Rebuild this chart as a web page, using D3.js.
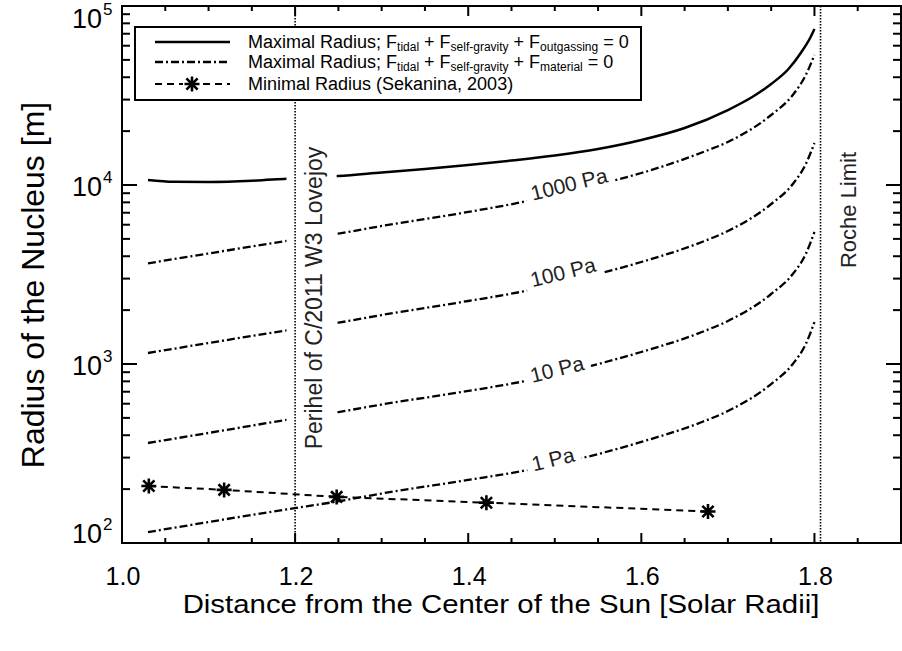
<!DOCTYPE html>
<html><head><meta charset="utf-8">
<script src="https://cdn.jsdelivr.net/npm/d3@7"></script>
<style>body{margin:0;background:#fff} svg{font-family:"Liberation Sans",Arial,Helvetica,sans-serif}</style>
</head><body><svg id="c" width="902" height="651"></svg>
<script>
// ---- data ----
const solidX = [1.03,1.06,1.10,1.15,1.19,1.25,1.30,1.35,1.40,1.45,1.50,1.55,1.60,1.65,1.70,1.73,1.75,1.77,1.785,1.795,1.80];
const solidR = [10665,10420,10394,10556,10845,11226,11745,12285,12934,13707,14616,15888,17840,20820,26240,31420,36660,44460,55340,66250,74360];
const presX  = [1.03,1.10,1.19,1.25,1.30,1.40,1.46,1.55,1.60,1.67,1.70,1.75,1.775,1.79,1.80];
const p1000R = [3652,4143,4867,5352,5902,7067,7983,10064,11667,15190,17390,24610,31820,41160,53250];
const p100R  = [1152,1310,1539,1701,1878,2249,2524,3184,3714,4804,5534,7831,10130,13100,17160];
const p10R   = [362,412,487,539,594,707,793,1000,1167,1509,1739,2461,3184,4117,5463];
const p1R    = [115,131,154,171,189,225,251,314,367,474,546,773,1000,1293,1716];
const presLabels = ["1000 Pa","100 Pa","10 Pa","1 Pa"];
const sekX = [1.031,1.118,1.248,1.421,1.677];
const sekR = [208,198,181,168,150];
const xTickVals = [1.0,1.2,1.4,1.6,1.8];
const yTickExp = [2,3,4,5];
const periX = 1.2, rocheX = 1.807;

// ---- layout ----
const svg = d3.select("#c");
const L=122,R=901,T=6,B=543;
const x = d3.scaleLinear().domain([1.0,1.9]).range([L,R]);
const y = d3.scaleLog().domain([100,1e5]).range([B,T]);
const line = d3.line().x(d=>x(d[0])).y(d=>y(d[1]));

// curves
svg.append("path").datum(d3.zip(solidX,solidR)).attr("d",line.curve(d3.curveMonotoneX))
  .attr("fill","none").attr("stroke","#000").attr("stroke-width",2.5);
const pres = [p1000R,p100R,p10R,p1R];
pres.forEach(arr=>{
  svg.append("path").datum(d3.zip(presX,arr)).attr("d",line.curve(d3.curveMonotoneX))
    .attr("fill","none").attr("stroke","#000").attr("stroke-width",2.3)
    .attr("stroke-dasharray","8,3,2,3");
});
// Sekanina
svg.append("path").datum(d3.zip(sekX,sekR)).attr("d",line.curve(d3.curveLinear))
  .attr("fill","none").attr("stroke","#000").attr("stroke-width",2).attr("stroke-dasharray","7,5");
function star(g,cx,cy,r){
  const a=r*0.75;
  g.append("path").attr("d",`M${cx-r},${cy}H${cx+r}M${cx},${cy-r}V${cy+r}M${cx-a},${cy-a}L${cx+a},${cy+a}M${cx-a},${cy+a}L${cx+a},${cy-a}`)
   .attr("stroke","#000").attr("stroke-width",2.6).attr("fill","none");
}
sekX.forEach((v,i)=>star(svg,x(v),y(sekR[i]),7.5));

// curve labels with white background
const labPos = [[569,184,-14],[563,272,-14],[557,369,-14],[553,459,-14]];
presLabels.forEach((t,i)=>{
  const [cx,cy,rot]=labPos[i];
  const g = svg.append("g").attr("transform",`translate(${cx},${cy}) rotate(${rot})`);
  const tx = g.append("text").attr("text-anchor","middle").attr("dominant-baseline","central")
    .attr("font-size",21).attr("fill","#222").text(t);
  const bb = tx.node().getBBox();
  g.insert("rect","text").attr("x",bb.x-6).attr("y",bb.y-1).attr("width",bb.width+12).attr("height",bb.height+2).attr("fill","#fff");
});

// perihel label
svg.append("rect").attr("x",x(1.19)).attr("y",140).attr("width",x(1.248)-x(1.19)).attr("height",315).attr("fill","#fff");
svg.append("text").attr("transform",`translate(322,298) rotate(-90)`).attr("text-anchor","middle")
  .attr("font-size",23).attr("fill","#222").text("Perihel of C/2011 W3 Lovejoy");
svg.append("text").attr("transform",`translate(856,210) rotate(-90)`).attr("text-anchor","middle")
  .attr("font-size",22).attr("fill","#222").text("Roche Limit");

// dotted verticals
[periX,rocheX].forEach(v=>{
  svg.append("line").attr("x1",x(v)).attr("x2",x(v)).attr("y1",T).attr("y2",B)
    .attr("stroke","#000").attr("stroke-width",1.6).attr("stroke-dasharray","1.5,1.5");
});

// frame
svg.append("rect").attr("x",L).attr("y",T).attr("width",R-L).attr("height",B-T)
  .attr("fill","none").attr("stroke","#000").attr("stroke-width",2);

// ticks
const xMinor = d3.range(1.0,1.9001,0.05).map(v=>+v.toFixed(2));
const tk = svg.append("g").attr("stroke","#000").attr("stroke-width",2);
xMinor.forEach(v=>{
  const major = xTickVals.some(m=>Math.abs(m-v)<1e-6);
  const len = major?10:5;
  tk.append("line").attr("x1",x(v)).attr("x2",x(v)).attr("y1",B).attr("y2",B-len);
  tk.append("line").attr("x1",x(v)).attr("x2",x(v)).attr("y1",T).attr("y2",T+len);
});
const yAll = y.ticks();
yAll.forEach(v=>{
  const major = Math.abs(Math.log10(v)-Math.round(Math.log10(v)))<1e-9;
  const len = major?15:8;
  tk.append("line").attr("x1",L).attr("x2",L+len).attr("y1",y(v)).attr("y2",y(v));
  tk.append("line").attr("x1",R).attr("x2",R-len).attr("y1",y(v)).attr("y2",y(v));
});

// tick labels
xTickVals.forEach(v=>{
  svg.append("text").attr("x",x(v)+1).attr("y",585).attr("text-anchor","middle")
    .attr("font-size",25).text(d3.format(".1f")(v));
});
yTickExp.forEach((e,i)=>{
  const ty = y(Math.pow(10,e));
  let base = ty+11;
  if(i===0) base = B;            // bottom label kept inside
  if(i===yTickExp.length-1) base = 28; // top label kept inside
  svg.append("text").attr("x",102).attr("y",base).attr("text-anchor","end").attr("font-size",27).text("10");
  svg.append("text").attr("x",103).attr("y",base-13).attr("font-size",17).text(e);
});

// axis titles
svg.append("text").attr("transform","translate(501,613) scale(1.13,1)").attr("text-anchor","middle").attr("font-size",26)
  .text("Distance from the Center of the Sun [Solar Radii]");
svg.append("text").attr("transform","translate(44,285) rotate(-90)").attr("text-anchor","middle").attr("font-size",32)
  .text("Radius of the Nucleus [m]");

// legend
const lg = svg.append("g");
lg.append("rect").attr("x",135).attr("y",27).attr("width",506).attr("height",73).attr("fill","#fff").attr("stroke","#000").attr("stroke-width",2);
const rows=[42,62,84];
lg.append("line").attr("x1",155).attr("x2",230).attr("y1",rows[0]).attr("y2",rows[0]).attr("stroke","#000").attr("stroke-width",2.5);
lg.append("line").attr("x1",155).attr("x2",230).attr("y1",rows[1]).attr("y2",rows[1]).attr("stroke","#000").attr("stroke-width",2.3).attr("stroke-dasharray","8,3,2,3");
lg.append("line").attr("x1",155).attr("x2",230).attr("y1",rows[2]).attr("y2",rows[2]).attr("stroke","#000").attr("stroke-width",2).attr("stroke-dasharray","7,5");
lg.append("rect").attr("x",183).attr("y",rows[2]-9).attr("width",18).attr("height",18).attr("fill","#fff");
star(lg,192,rows[2],7.5);
function legText(yy,parts){
  const t = lg.append("text").attr("x",248).attr("y",yy+6).attr("font-size",18);
  let sub=false;
  parts.forEach(p=>{
    if(p[0]==="_"){ t.append("tspan").attr("font-size",12).attr("dy",3).text(p.slice(1)); sub=true; }
    else { t.append("tspan").attr("dy",sub?-3:0).text(p); sub=false; }
  });
}
legText(rows[0],["Maximal Radius; F","_tidal"," + F","_self-gravity"," + F","_outgassing"," = 0"]);
legText(rows[1],["Maximal Radius; F","_tidal"," + F","_self-gravity"," + F","_material"," = 0"]);
legText(rows[2],["Minimal Radius (Sekanina, 2003)"]);
</script></body></html>
